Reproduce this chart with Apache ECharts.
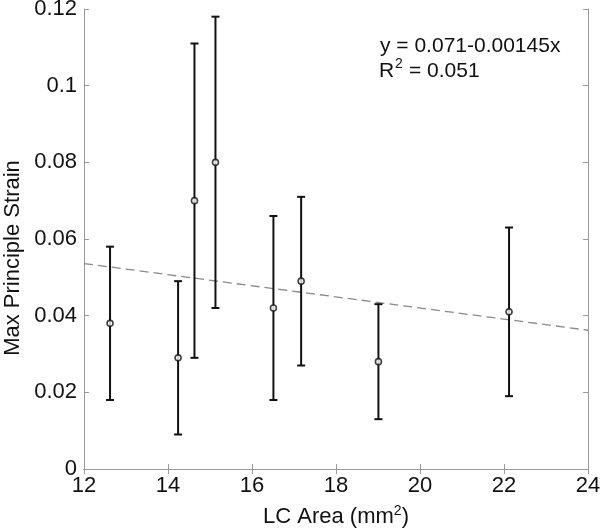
<!DOCTYPE html>
<html>
<head>
<meta charset="utf-8">
<script src="https://cdn.jsdelivr.net/npm/echarts@6/dist/echarts.min.js"></script>
<style>
  html, body { margin: 0; padding: 0; background: #fff; }
  #chart { width: 600px; height: 529px; }
</style>
</head>
<body>
<div id="chart"></div>
<script>
// LC area per specimen, mean strain and error bar ends
const areaValues = [12.62, 14.24, 14.63, 15.13, 16.51, 17.17, 19.01, 22.12]
const strainMean = [0.038, 0.029, 0.070, 0.080, 0.042, 0.049, 0.028, 0.041]
const strainUpper = [0.058, 0.049, 0.111, 0.118, 0.066, 0.071, 0.043, 0.063]
const strainLower = [0.018, 0.009, 0.029, 0.042, 0.018, 0.027, 0.013, 0.019]

// regression line ends
const fitX = [12, 24]
const fitY = [0.0536, 0.0362]

const xTicks = [12, 14, 16, 18, 20, 22, 24]
const yTicks = [0, 0.02, 0.04, 0.06, 0.08, 0.1, 0.12]

const fitText = 'y = 0.071-0.00145x'
const r2Text = '= 0.051'
const yName = 'Max Principle Strain'

const font = 'Liberation Sans'
const axisGray = '#9a9a9a'

const mChart = echarts.init(document.getElementById('chart'))

const errorBars = areaValues.map((x, i) => [x, strainLower[i], strainUpper[i]])

/**
 * 误差棒
 */
const renderErrorBar = (params, api) => {
  const x = api.value(0)
  const low = api.coord([x, api.value(1)])
  const high = api.coord([x, api.value(2)])
  const capW = 4
  const style = { stroke: '#111', lineWidth: 2, fill: null }
  return {
    type: 'group',
    children: [
      { type: 'line', shape: { x1: low[0], y1: low[1], x2: high[0], y2: high[1] }, style },
      { type: 'line', shape: { x1: low[0] - capW, y1: low[1], x2: low[0] + capW, y2: low[1] }, style },
      { type: 'line', shape: { x1: high[0] - capW, y1: high[1], x2: high[0] + capW, y2: high[1] }, style }
    ]
  }
}

const boxAxis = {
  axisLine: { show: true, lineStyle: { color: axisGray, width: 1 } },
  axisTick: { show: true, inside: true, length: 5, lineStyle: { color: axisGray } },
  splitLine: { show: false }
}

const options = {
  animation: false,
  textStyle: { fontFamily: font },
  grid: { left: 84, right: 12, top: 9, bottom: 60, outerBoundsMode: 'none', containLabel: false },
  xAxis: [
    {
      type: 'value',
      min: xTicks[0],
      max: xTicks[xTicks.length - 1],
      interval: 2,
      ...boxAxis,
      axisLabel: { color: '#111', fontSize: 22, margin: 6 },
      name: 'LC Area (mm{sup|2})',
      nameLocation: 'middle',
      nameGap: 35,
      nameTextStyle: {
        color: '#111',
        fontSize: 22,
        rich: { sup: { fontSize: 14, color: '#111', padding: [0, 0, 12, 0] } }
      }
    },
    {
      type: 'value',
      position: 'top',
      min: xTicks[0],
      max: xTicks[xTicks.length - 1],
      interval: 2,
      ...boxAxis,
      axisLabel: { show: false }
    }
  ],
  yAxis: [
    {
      type: 'value',
      min: yTicks[0],
      max: yTicks[yTicks.length - 1],
      interval: 0.02,
      ...boxAxis,
      axisLabel: { color: '#111', fontSize: 22, margin: 7 }
    },
    {
      type: 'value',
      position: 'right',
      min: yTicks[0],
      max: yTicks[yTicks.length - 1],
      interval: 0.02,
      ...boxAxis,
      axisLabel: { show: false }
    }
  ],
  graphic: [
    {
      // y 轴标题
      type: 'text',
      x: 13,
      y: 258,
      rotation: Math.PI / 2,
      style: { text: yName, font: '22px "Liberation Sans"', fill: '#111', align: 'center', verticalAlign: 'middle' }
    },
    {
      type: 'text',
      left: 380,
      top: 36,
      style: { text: fitText, font: '21px "Liberation Sans"', fill: '#111' }
    },
    {
      type: 'text',
      left: 379,
      top: 61,
      style: { text: 'R', font: '21px "Liberation Sans"', fill: '#111' }
    },
    {
      type: 'text',
      left: 395,
      top: 57,
      style: { text: '2', font: '14px "Liberation Sans"', fill: '#111' }
    },
    {
      type: 'text',
      left: 409,
      top: 61,
      style: { text: r2Text, font: '21px "Liberation Sans"', fill: '#111' }
    }
  ],
  series: [
    {
      // 回归线
      type: 'line',
      data: fitX.map((x, i) => [x, fitY[i]]),
      symbol: 'none',
      lineStyle: { color: '#8a8a8a', width: 1.3, type: [9, 5] },
      z: 1
    },
    {
      type: 'custom',
      renderItem: renderErrorBar,
      data: errorBars,
      z: 2
    },
    {
      type: 'scatter',
      data: areaValues.map((x, i) => [x, strainMean[i]]),
      symbol: 'circle',
      symbolSize: 6,
      itemStyle: { color: '#fff', borderColor: '#111', borderWidth: 1.6 },
      z: 3
    }
  ]
}
mChart.setOption(options)
</script>
</body>
</html>
